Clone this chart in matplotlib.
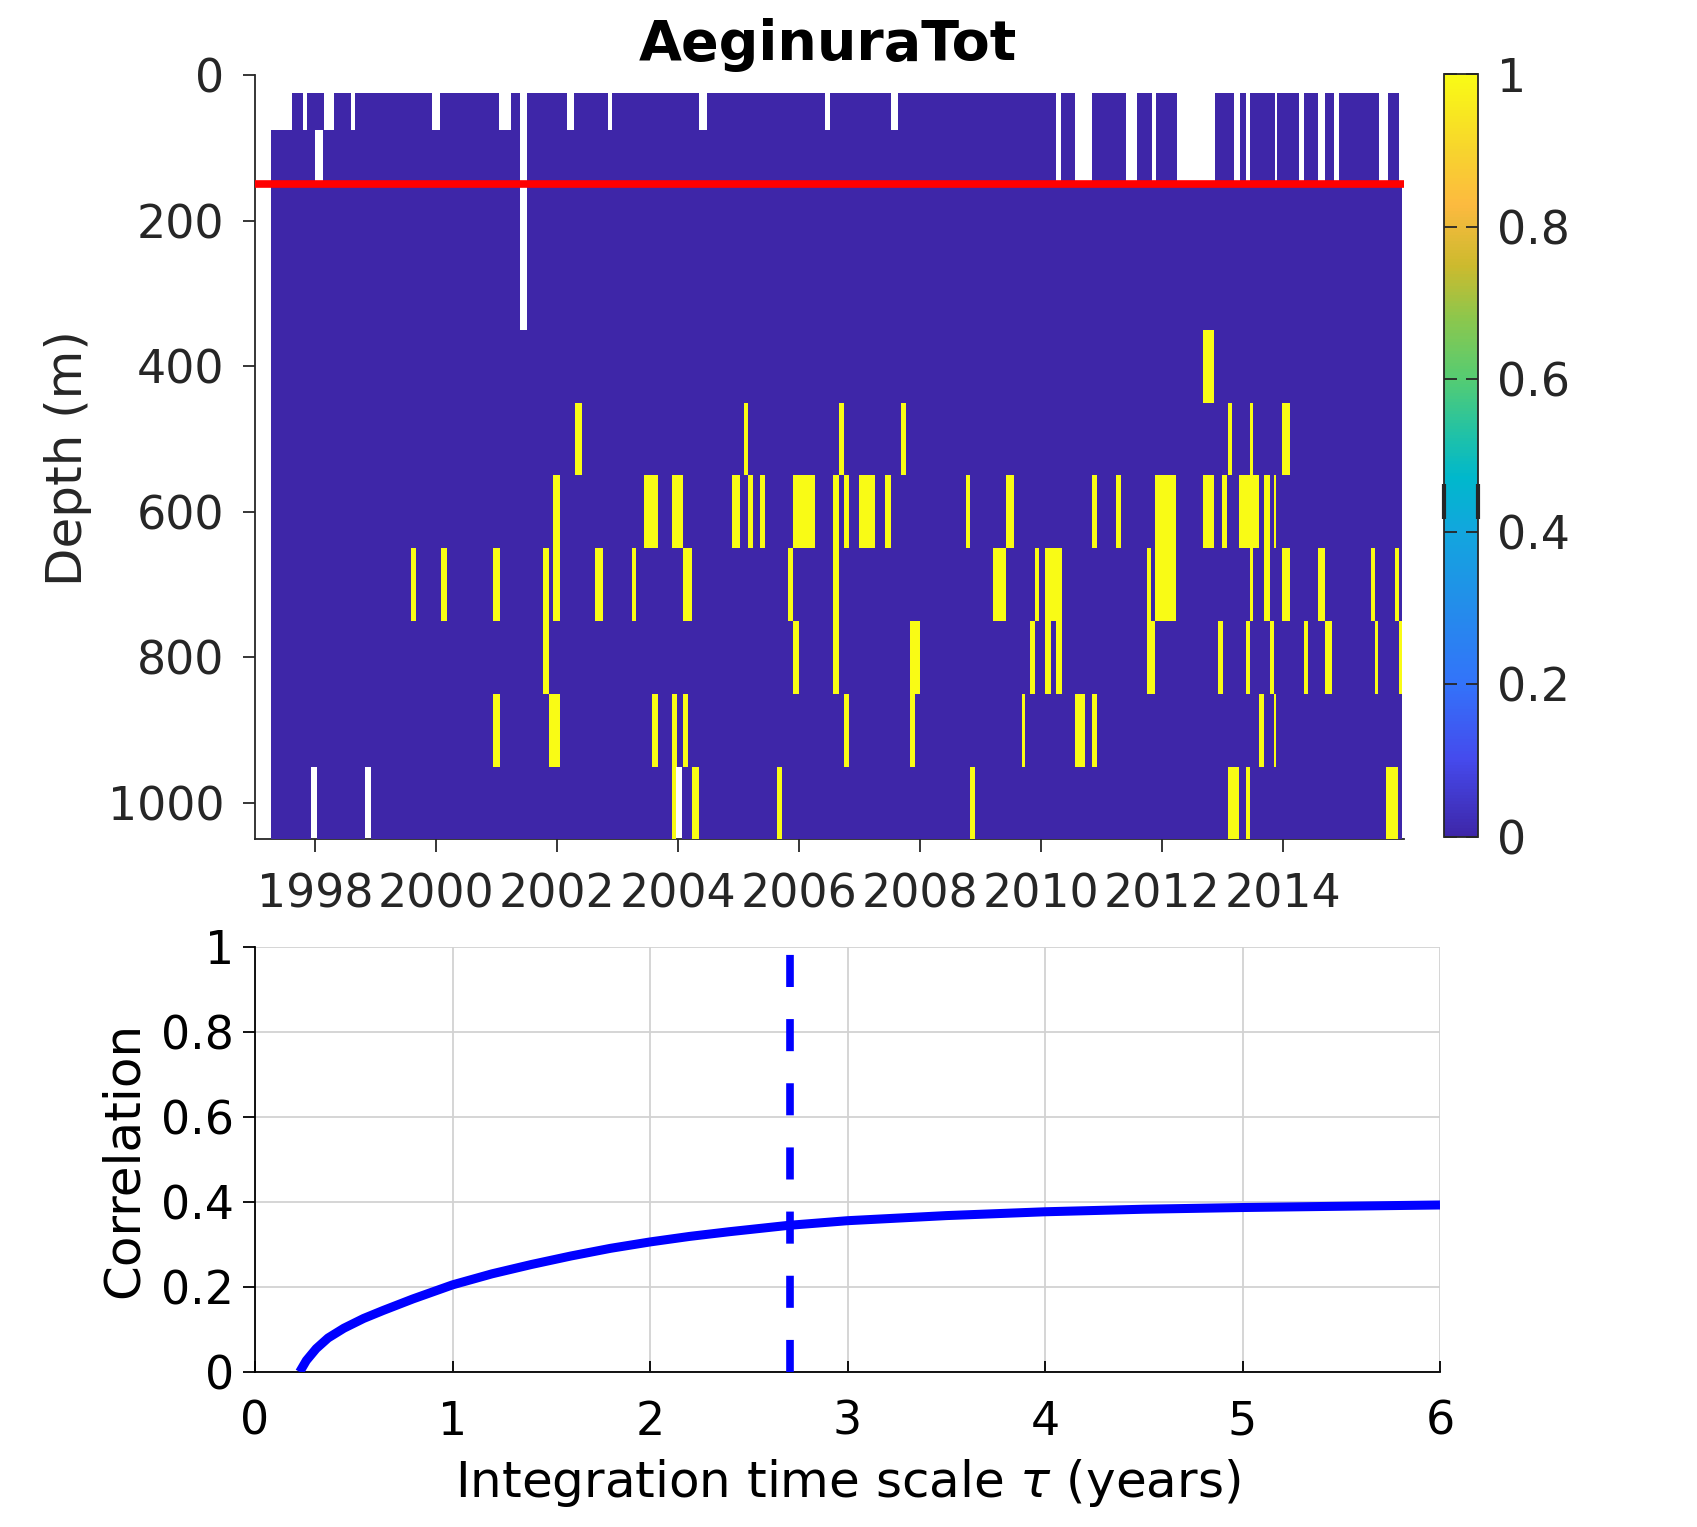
import numpy as np
import matplotlib
matplotlib.use("Agg")
import matplotlib.pyplot as plt
from matplotlib.colors import LinearSegmentedColormap

# ---------------- data ----------------
depth_edges = [25, 75, 150, 250, 350, 450, 550, 650, 750, 850, 950, 1050]
t_start, t_end = 1997.26, 2015.96

# missing samples (white), per depth row
gaps_top_shared = [(2010.24, 2010.33), (2010.56, 2010.84), (2011.41, 2011.59), (2011.83, 2011.90),
                   (2012.24, 2012.87), (2013.19, 2013.28), (2013.38, 2013.46), (2013.86, 2013.90),
                   (2014.27, 2014.35), (2014.57, 2014.69), (2014.84, 2014.93), (2015.58, 2015.73),
                   (2015.91, 2015.96)]
gaps_25 = [(1997.26, 1997.62), (1997.80, 1997.86), (1998.14, 1998.30), (1998.59, 1998.66),
           (1999.93, 2000.06), (2001.04, 2001.24), (2002.16, 2002.28), (2002.84, 2002.91),
           (2004.35, 2004.48), (2006.42, 2006.50), (2007.52, 2007.63)]
gaps_75 = [(1998.00, 1998.13)]
gaps_long = [(2001.39, 2001.49)]          # rows 25..350
gaps_950 = [(1997.93, 1998.03), (1998.82, 1998.92), (2003.96, 2004.06)]

# presence (value 1, yellow), per depth row
pres_350 = [(2012.68, 2012.86)]
pres_450 = [(2002.29, 2002.40), (2005.09, 2005.15), (2006.66, 2006.74), (2007.68, 2007.76),
            (2013.09, 2013.16), (2013.46, 2013.51), (2013.98, 2014.11)]
pres_550 = [(2001.92, 2002.04), (2003.44, 2003.66), (2003.90, 2004.07), (2004.88, 2005.02),
            (2005.16, 2005.24), (2005.35, 2005.44), (2005.90, 2006.26), (2006.56, 2006.66),
            (2006.74, 2006.82), (2006.99, 2007.25), (2007.41, 2007.52), (2008.76, 2008.83),
            (2009.42, 2009.55), (2010.84, 2010.92), (2011.24, 2011.32), (2011.88, 2012.23),
            (2012.68, 2012.86), (2012.99, 2013.08), (2013.27, 2013.60), (2013.68, 2013.79),
            (2013.85, 2013.88)]
pres_650 = [(1999.58, 1999.66), (2000.07, 2000.17), (2000.93, 2001.05), (2001.77, 2001.86),
            (2001.92, 2002.04), (2002.63, 2002.76), (2003.23, 2003.30), (2004.07, 2004.22),
            (2005.82, 2005.90), (2006.56, 2006.66), (2009.21, 2009.42), (2009.90, 2009.97),
            (2010.07, 2010.35), (2011.75, 2011.82), (2011.88, 2012.23), (2013.46, 2013.51),
            (2013.68, 2013.79), (2013.98, 2014.11), (2014.57, 2014.69), (2015.45, 2015.52),
            (2015.85, 2015.91)]
pres_750 = [(2001.77, 2001.86), (2005.90, 2005.99), (2006.56, 2006.66), (2007.83, 2008.00),
            (2009.82, 2009.90), (2010.07, 2010.16), (2010.25, 2010.35), (2011.75, 2011.89),
            (2012.93, 2013.00), (2013.38, 2013.46), (2013.79, 2013.85), (2014.35, 2014.42),
            (2014.69, 2014.81), (2015.52, 2015.57), (2015.91, 2015.96)]
pres_850 = [(2000.93, 2001.05), (2001.86, 2002.04), (2003.56, 2003.66), (2003.90, 2003.98),
            (2004.08, 2004.16), (2006.74, 2006.82), (2007.83, 2007.92), (2009.69, 2009.73),
            (2010.56, 2010.73), (2010.84, 2010.92), (2013.61, 2013.68), (2013.85, 2013.88)]
pres_950 = [(2003.90, 2003.96), (2004.22, 2004.35), (2005.64, 2005.72), (2008.83, 2008.91),
            (2013.09, 2013.27), (2013.38, 2013.45), (2015.70, 2015.90)]

mld_depth = 150
year_ticks = list(range(1998, 2015, 2))

# correlation vs integration time scale
tau = [0.226, 0.26, 0.31, 0.37, 0.45, 0.55, 0.65, 0.8, 1.0, 1.2, 1.4, 1.6, 1.8, 2.0,
       2.2, 2.4, 2.7, 3.0, 3.5, 4.0, 4.5, 5.0, 5.5, 6.0]
corr = [0.0, 0.027, 0.055, 0.080, 0.103, 0.126, 0.145, 0.172, 0.205, 0.231, 0.253, 0.273,
        0.291, 0.306, 0.319, 0.330, 0.345, 0.356, 0.368, 0.377, 0.383, 0.387, 0.390, 0.393]
tau_best = 2.71

# ---------------- build the matrix ----------------
rows_pres = {4: pres_350, 5: pres_450, 6: pres_550, 7: pres_650,
             8: pres_750, 9: pres_850, 10: pres_950}
rows_gaps = {0: gaps_25 + gaps_top_shared + gaps_long,
             1: gaps_75 + gaps_top_shared + gaps_long,
             2: gaps_long, 3: gaps_long, 10: gaps_950}

bounds = {t_start, t_end}
for d in (rows_pres, rows_gaps):
    for ivs in d.values():
        for a, b in ivs:
            bounds.update([a, b])
xe = np.array(sorted(bounds))
mids = 0.5 * (xe[:-1] + xe[1:])
Z = np.zeros((len(depth_edges) - 1, len(mids)))
for r, ivs in rows_pres.items():
    for a, b in ivs:
        Z[r, (mids > a) & (mids < b)] = 1.0
for r, ivs in rows_gaps.items():
    for a, b in ivs:
        Z[r, (mids > a) & (mids < b)] = np.nan

parula = LinearSegmentedColormap.from_list("parula_old", [
    (0.00, (0.2422, 0.1504, 0.6603)),
    (0.10, (0.2700, 0.2900, 0.9300)),
    (0.20, (0.2000, 0.4500, 0.9800)),
    (0.30, (0.1400, 0.5500, 0.9200)),
    (0.40, (0.0700, 0.6500, 0.8700)),
    (0.47, (0.0000, 0.7200, 0.8000)),
    (0.53, (0.1300, 0.7600, 0.6500)),
    (0.60, (0.3300, 0.8000, 0.4500)),
    (0.68, (0.5500, 0.7800, 0.3000)),
    (0.75, (0.8000, 0.7300, 0.1800)),
    (0.83, (0.9900, 0.7300, 0.2500)),
    (0.90, (0.9700, 0.8300, 0.1800)),
    (1.00, (0.9769, 0.9839, 0.0805)),
])

# ---------------- figure ----------------
W, H = 1697, 1527
fig = plt.figure(figsize=(W / 100, H / 100), dpi=100)


def fx(px):
    return px / W


def fy(py):
    return 1 - py / H


grey = (0.15, 0.15, 0.15)
tick_fs = 33
label_fs = 36

ax = fig.add_axes([fx(255), fy(839.5), fx(1404) - fx(255), fy(75) - fy(839.5)])
mesh = ax.pcolormesh(xe, depth_edges, np.ma.masked_invalid(Z), cmap=parula,
                     vmin=0, vmax=1, shading="flat", edgecolors="none",
                     antialiased=False, zorder=1)
ax.plot([1997, 2016], [mld_depth, mld_depth], color="red", lw=5.5,
        solid_capstyle="butt", zorder=3, clip_on=False)
ax.set_xlim(1997, 2016)
ax.set_ylim(1050, 0)
ax.set_xticks(year_ticks)
ax.set_xticklabels([str(y) for y in year_ticks])
ax.set_yticks([0, 200, 400, 600, 800, 1000])
for s in ("top", "right"):
    ax.spines[s].set_visible(False)
for s in ("left", "bottom"):
    ax.spines[s].set_color(grey)
    ax.spines[s].set_linewidth(1.3)
ax.spines["bottom"].set_zorder(0.5)
ax.tick_params(axis="y", direction="out", length=9, width=1.3, pad=13,
               labelsize=tick_fs, colors=grey)
ax.tick_params(axis="x", direction="out", length=9, width=1.3, pad=15,
               labelsize=tick_fs, colors=grey)

fig.text(fx(828), fy(60), "AeginuraTot", fontsize=40, fontweight="bold",
         ha="center", va="baseline")
fig.text(fx(68), fy(458), "Depth (m)", fontsize=label_fs, rotation=90,
         ha="center", va="center", color=grey)

# colorbar
cax = fig.add_axes([fx(1444), fy(837), fx(1478) - fx(1444), fy(74) - fy(837)])
cb = fig.colorbar(mesh, cax=cax)
cb.set_ticks([0, 0.2, 0.4, 0.6, 0.8, 1])
cb.set_ticklabels(["0", "0.2", "0.4", "0.6", "0.8", "1"])
cax.tick_params(direction="in", left=True, right=True, length=9, width=1.3,
                pad=14, labelsize=tick_fs, colors=grey)
cb.outline.set_edgecolor(grey)
cb.outline.set_linewidth(1.3)
for xm in (0, 1):
    cax.plot([xm, xm], [0.417, 0.462], color=grey, lw=3, transform=cax.transAxes,
             clip_on=False, solid_capstyle="butt")

# correlation panel
bx = fig.add_axes([fx(255), fy(1372), fx(1440) - fx(255), fy(947) - fy(1372)])
bx.plot(tau, corr, color=(0, 0, 1), lw=6.5, solid_capstyle="butt",
        solid_joinstyle="round", zorder=3)
bx.plot([tau_best, tau_best], [0, 1], color=(0, 0, 1), lw=5.5, dashes=(4.2, 4.2),
        dash_capstyle="butt", zorder=4)
bx.set_xlim(0, 6)
bx.set_ylim(0, 1)
bx.set_xticks(range(0, 7))
bx.set_yticks([0, 0.2, 0.4, 0.6, 0.8, 1])
bx.set_yticklabels(["0", "0.2", "0.4", "0.6", "0.8", "1"])
bx.grid(True, color="#d2d2d2", lw=1.3)
bx.set_axisbelow(True)
for s in ("top", "right"):
    bx.spines[s].set_visible(False)
for s in ("left", "bottom"):
    bx.spines[s].set_linewidth(1.3)
bx.tick_params(axis="y", direction="out", length=9, width=1.3, pad=6, labelsize=tick_fs)
bx.tick_params(axis="x", direction="in", length=8, width=1.3, pad=20, labelsize=tick_fs)

fig.text(fx(124), fy(1160), "Correlation", fontsize=label_fs, rotation=90,
         ha="center", va="center")
fig.text(fx(848), fy(1497), r"Integration time scale $\tau$ (years)",
         fontsize=label_fs, ha="center", va="baseline")

fig.savefig("out.png", dpi=100)
